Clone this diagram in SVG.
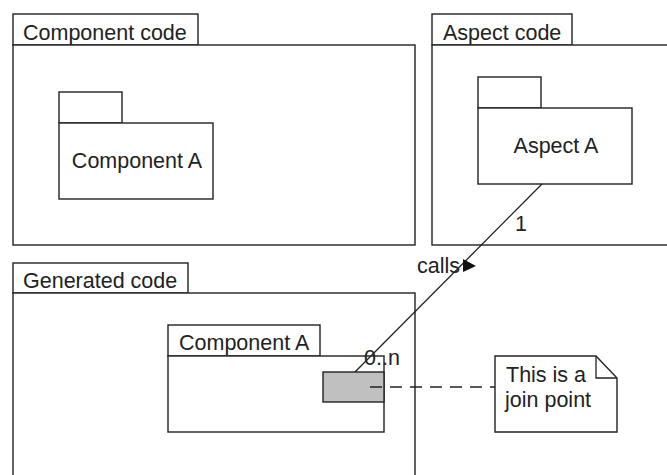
<svg xmlns="http://www.w3.org/2000/svg" width="667" height="475" viewBox="0 0 667 475">
<style>
.b{fill:#fff;stroke:#222;stroke-width:1.4}
.t{font-family:"Liberation Sans",Arial,sans-serif;font-size:21.5px;fill:#222}
.c{stroke:#222;stroke-width:1.3;fill:none}
</style>
<rect width="667" height="475" fill="#fff"/>
<g id="component-code">
<rect class="b" x="13" y="14" width="185" height="31"/>
<rect class="b" x="13" y="45" width="402" height="200"/>
<text class="t" x="23" y="40">Component code</text>
</g>
<g id="component-a">
<rect class="b" x="59" y="92" width="63" height="31"/>
<rect class="b" x="59" y="123" width="154" height="76"/>
<text class="t" x="137" y="168" text-anchor="middle">Component A</text>
</g>
<g id="aspect-code">
<rect class="b" x="432" y="14" width="140" height="31"/>
<rect class="b" x="432" y="45" width="245" height="200"/>
<text class="t" x="443" y="40">Aspect code</text>
</g>
<g id="aspect-a">
<rect class="b" x="478" y="77" width="63" height="31"/>
<rect class="b" x="478" y="108" width="154" height="76"/>
<text class="t" x="556" y="153" text-anchor="middle">Aspect A</text>
</g>
<g id="generated-code">
<rect class="b" x="13" y="263" width="175" height="30"/>
<rect class="b" x="13" y="293" width="402" height="200"/>
<text class="t" x="23" y="288">Generated code</text>
</g>
<g id="generated-component-a">
<rect class="b" x="168" y="325" width="152" height="31"/>
<rect class="b" x="168" y="356" width="216" height="76"/>
<text class="t" x="179" y="350">Component A</text>
</g>
<g id="join-point">
<rect x="323" y="372" width="61" height="30" fill="#c0c0c0" stroke="#222" stroke-width="1.4"/>
</g>
<g id="note">
<path class="b" d="M495 356 H596 L617 378 V432 H495 Z"/>
<path class="c" d="M596 356 V378 H617"/>
<text class="t" x="506" y="382">This is a</text>
<text class="t" x="505" y="407">join point</text>
</g>
<g id="connectors">
<line class="c" x1="542" y1="184" x2="355" y2="372"/>
<line class="c" x1="370" y1="387" x2="495" y2="387" stroke-dasharray="12,8"/>
<polygon points="463,259 476,266 463,272" fill="#111"/>
<text class="t" x="417" y="273">calls</text>
<text class="t" x="515" y="231">1</text>
<text class="t" x="364" y="365">0..n</text>
</g>
</svg>
